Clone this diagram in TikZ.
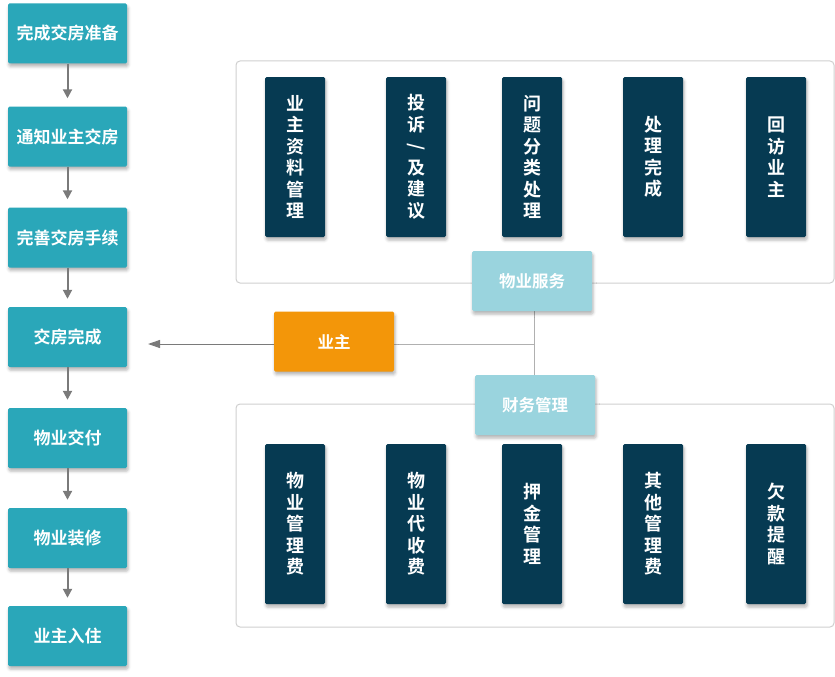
\documentclass[tikz,border=0pt]{standalone}
\usepackage{fontspec}
\setmainfont{Noto Sans CJK SC Bold}
\usetikzlibrary{arrows.meta,shadows.blur}
\definecolor{stepteal}{HTML}{2AA7B9}
\definecolor{itemnavy}{HTML}{063A52}
\definecolor{grouplight}{HTML}{9AD4DE}
\definecolor{ownerorange}{HTML}{F39609}
\definecolor{framegray}{HTML}{CFCFCF}
\definecolor{linkgray}{HTML}{B0B0B0}
\definecolor{arrowgray}{HTML}{7A7A7A}
\tikzset{
  boxshadow/.style={blur shadow={shadow xshift=1pt,shadow yshift=-3pt,shadow opacity=30,shadow blur radius=3pt}},
  stepbox/.style={rectangle,fill=stepteal,rounded corners=1.5pt,minimum width=119pt,minimum height=60pt,
    text=white,font=\fontsize{17}{20}\selectfont,boxshadow},
  itembox/.style={rectangle,fill=itemnavy,rounded corners=1.5pt,minimum width=60pt,minimum height=160pt,
    text=white,align=center,font=\fontsize{18}{21.5}\selectfont,boxshadow},
  groupbox/.style={rectangle,fill=grouplight,rounded corners=1.5pt,minimum width=120pt,minimum height=60pt,
    text=white,font=\fontsize{16.5}{20}\selectfont,boxshadow},
  ownerbox/.style={groupbox,fill=ownerorange},
  frame/.style={draw=framegray,line width=1pt,rounded corners=4pt},
  flow/.style={draw=arrowgray,line width=2pt,-{Triangle[width=9pt,length=9pt]}},
  link/.style={draw=linkgray,line width=1pt},
}
\begin{document}
\begin{tikzpicture}[x=1pt,y=-1pt]
  \useasboundingbox (0,0) rectangle (835,677);

  % frames round the two groups
  \draw[frame] (236,61) rectangle (834,283);
  \draw[frame] (236,404) rectangle (834,627);

  % left column
  \node[stepbox] (s1) at (67.5,33.5) {完成交房准备};
  \node[stepbox] (s2) at (67.5,136.5) {通知业主交房};
  \node[stepbox] (s3) at (67.5,237.5) {完善交房手续};
  \node[stepbox] (s4) at (67.5,337) {交房完成};
  \node[stepbox] (s5) at (67.5,438) {物业交付};
  \node[stepbox] (s6) at (67.5,538) {物业装修};
  \node[stepbox] (s7) at (67.5,636) {业主入住};

  \foreach \a/\b in {s1/s2,s2/s3,s3/s4,s4/s5,s5/s6,s6/s7}
    \path[flow] (\a.south) -- ([yshift=8pt]\b.north);

  % services
  \node[itembox] (fw1) at (295,157) {业\\主\\资\\料\\管\\理};
  \node[itembox] (fw2) at (416,157) {投\\诉\\\rotatebox[origin=c]{-90}{/}\\及\\建\\议};
  \node[itembox] (fw3) at (532,157) {问\\题\\分\\类\\处\\理};
  \node[itembox] (fw4) at (653,157) {处\\理\\完\\成};
  \node[itembox] (fw5) at (776,157) {回\\访\\业\\主};

  % finance
  \node[itembox] (cw1) at (295,524) {物\\业\\管\\理\\费};
  \node[itembox] (cw2) at (416,524) {物\\业\\代\\收\\费};
  \node[itembox] (cw3) at (532,524) {押\\金\\管\\理};
  \node[itembox] (cw4) at (653,524) {其\\他\\管\\理\\费};
  \node[itembox] (cw5) at (776,524) {欠\\款\\提\\醒};

  \coordinate (hub) at (534,344);
  \coordinate (tip) at (148,344);

  \path[link] (hub |- 0,300) -- (hub |- 0,390);
  \path[link] (hub) -- (390,344);

  \node[groupbox] (fuwu) at (532,281) {物业服务};
  \node[groupbox] (caiwu) at (535,405) {财务管理};
  \node[ownerbox] (yezhu) at (334,341.5) {业主};

  \path[draw=arrowgray,line width=1pt,-{Triangle[width=8pt,length=12pt]}] (yezhu.west |- hub) -- (tip);
\end{tikzpicture}
\end{document}
